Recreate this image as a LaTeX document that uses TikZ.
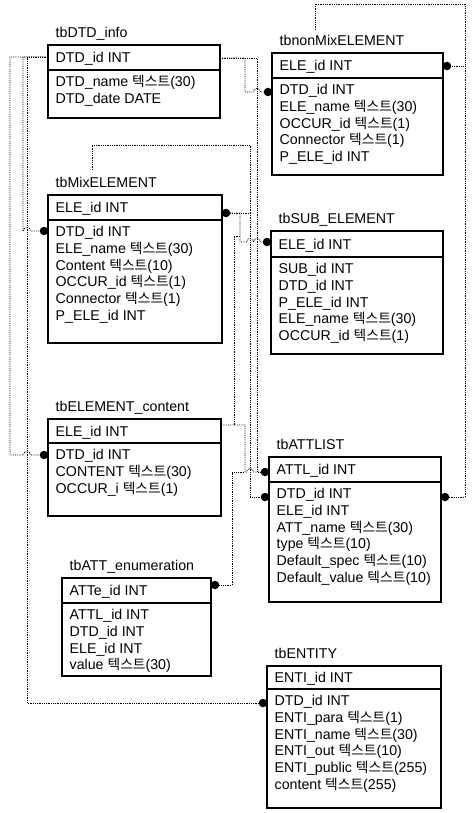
\documentclass[tikz,border=0pt]{standalone}
\usepackage{fontspec}
\setmainfont{Liberation Sans}
\newfontfamily\krfont{Noto Sans CJK KR}[Scale=0.97]
\newcommand\tx{{\krfont 텍스트}}
\usetikzlibrary{calc}
\newcommand\ertable[9]{%
  \node[tbl, minimum width={#4-#2}, minimum height={#6-#3}] (#1) at (#2,#3) {};
  \draw[sepline] (#2,#5) -- (#4,#5);
  \node[ttl] (#1-t) at (#2+7.5,#3-7.5) {#7};
  \node[rowtxt] (#1-h) at (#2+7.5,{(#3+#5)/2+5}) {#8};
  \foreach \r [count=\i from 0] in {#9} {\node[rowtxt] (#1-\i) at (#2+7.5,#5+16.5+16.8*\i) {\r};}
}
\begin{document}
\begin{tikzpicture}[x=1pt,y=-1pt,
  tbl/.style={draw=black, line width=1.4pt, anchor=north west, inner sep=0, outer sep=0},
  sepline/.style={line width=1.1pt},
  rowtxt/.style={anchor=base west, inner sep=0, font=\fontsize{14.2}{16}\selectfont},
  ttl/.style={anchor=base west, inner sep=0, font=\fontsize{14.2}{16}\selectfont},
  rel/.style={densely dotted, line width=0.8pt},
  fk/.style={circle, fill=black, inner sep=0, minimum size=8.5pt},
]
\useasboundingbox (0,0) rectangle (475,813);

\ertable{dtd}{48}{45}{220}{70}{118}{tbDTD\_info}{DTD\_id INT}{DTD\_name \tx(30), DTD\_date DATE}
\ertable{nmx}{272}{53}{443}{78}{175}{tbnonMixELEMENT}{ELE\_id INT}{DTD\_id INT, ELE\_name \tx(30), OCCUR\_id \tx(1), Connector \tx(1), P\_ELE\_id INT}
\ertable{mix}{48}{195}{222}{220}{343}{tbMixELEMENT}{ELE\_id INT}{DTD\_id INT, ELE\_name \tx(30), Content \tx(10), OCCUR\_id \tx(1), Connector \tx(1), P\_ELE\_id INT}
\ertable{sub}{271}{231}{443}{257}{354}{tbSUB\_ELEMENT}{ELE\_id INT}{SUB\_id INT, DTD\_id INT, P\_ELE\_id INT, ELE\_name \tx(30), OCCUR\_id \tx(1)}
\ertable{cnt}{48}{419}{221}{443}{516}{tbELEMENT\_content}{ELE\_id INT}{DTD\_id INT, CONTENT \tx(30), OCCUR\_i \tx(1)}
\ertable{enm}{62}{578}{211}{603}{676}{tbATT\_enumeration}{ATTe\_id INT}{ATTL\_id INT, DTD\_id INT, ELE\_id INT, value \tx(30)}
\ertable{att}{269}{457}{441}{482}{602}{tbATTLIST}{ATTL\_id INT}{DTD\_id INT, ELE\_id INT, ATT\_name \tx(30), type \tx(10), Default\_spec \tx(10), Default\_value \tx(10)}
\ertable{ent}{267}{666}{441}{689}{808}{tbENTITY}{ENTI\_id INT}{DTD\_id INT, ENTI\_para \tx(1), ENTI\_name \tx(30), ENTI\_out \tx(10), ENTI\_public \tx(255), content \tx(255)}

% foreign-key dots
\node[fk] (dMix) at (44,231) {};
\node[fk] (dCnt) at (44,455) {};
\node[fk] (dEnt) at (263,703) {};
\node[fk] (dNmx) at (268,92) {};
\node[fk] (dMixR) at (226,213) {};
\node[fk] (dSub) at (267,242) {};
\node[fk] (dAtt1) at (265,472) {};
\node[fk] (dAtt2) at (265,497) {};
\node[fk] (dEnm) at (215,585) {};
\node[fk] (dNmxR) at (447,66) {};
\node[fk] (dAttR) at (445,497) {};

\coordinate (dtdL) at (48,57);
\coordinate (dtdR) at (220,58);
\coordinate (cntR) at (221,425);
\coordinate (nmxTop) at (315,30);
\coordinate (mixTop) at (92,170);

% DTD_info -> left side tables
\draw[rel] (dtdL) -- (23,57) -- (23,231) -- (23.5,231) arc[start angle=180,end angle=0,radius=3.5pt] -- (dMix);
\draw[rel] (dtdL) -- (10,57) -- (10,455) -- (23.5,455) arc[start angle=180,end angle=0,radius=3.5pt] -- (dCnt);
\draw[rel] (dtdL) -- (27,57) -- (27,703) -- (dEnt);

% DTD_info -> right side tables
\draw[rel] (dtdR) -- (245,58) -- (245,92) -- (253.5,92) arc[start angle=180,end angle=0,radius=3.5pt] -- (dNmx);
\draw[rel] (dtdR) -- (257,58) -- (257,472) -- (dAtt1);

% tbMixELEMENT self loop and links
\draw[rel] (mixTop) -- (92,145) -- (250,145) -- (250,213) -- (dMixR);
\draw[rel] (dMixR) -- (240,213) -- (240,242) -- (246.5,242) arc[start angle=180,end angle=0,radius=3.5pt] -- (253.5,242) arc[start angle=180,end angle=0,radius=3.5pt] -- (dSub);
\draw[rel] (250,213) -- (250,497) -- (dAtt2);
\draw[rel] (240,236) -- (234,236) -- (234,425);

% ELEMENT_content and ATT_enumeration -> ATTLIST
\draw[rel] (cntR) -- (245,425) -- (245,472) -- (246.5,472) arc[start angle=180,end angle=0,radius=3.5pt] -- (dAtt1);
\draw[rel] (dEnm) -- (232,585) -- (232,472) -- (245,472);

% tbnonMixELEMENT loop and link to ATTLIST
\draw[rel] (nmxTop) -- (315,4) -- (465,4) -- (465,66) -- (dNmxR);
\draw[rel] (465,66) -- (465,497) -- (dAttR);
\end{tikzpicture}
\end{document}
